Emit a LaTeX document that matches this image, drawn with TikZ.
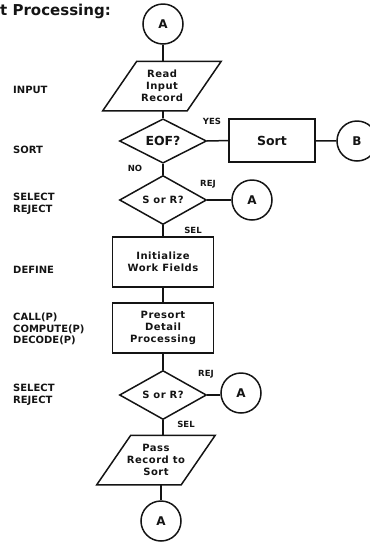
\documentclass[tikz,border=0pt]{standalone}
\usepackage{fontspec}
\setsansfont{DejaVu Sans}
\newfontfamily\flowfont[LetterSpace=5]{DejaVu Sans}
\usepackage{tikz}
\usetikzlibrary{positioning,shapes.geometric,calc}
\definecolor{InkBlack}{RGB}{20,20,20}
\tikzset{
  flow/.style={draw=InkBlack,line width=1.5pt,font=\flowfont\bfseries\fontsize{10}{12}\selectfont,
    text=InkBlack,align=center,inner sep=0pt},
  iobox/.style={flow,draw=none,rectangle,minimum width=83,minimum height=48},
  process/.style={flow,rectangle,minimum width=101,minimum height=50},
  decision/.style={flow,diamond,minimum width=87,minimum height=41},
  connector/.style={flow,circle,minimum size=40,font=\sffamily\bfseries\fontsize{12}{14}\selectfont},
  branch/.style={font=\sffamily\bfseries\fontsize{8.5}{10}\selectfont,text=InkBlack,inner sep=0pt},
  sidelabel/.style={font=\sffamily\bfseries\fontsize{10}{11.5}\selectfont,text=InkBlack,
    align=left,anchor=west,inner sep=0pt},
  line/.style={draw=InkBlack,line width=1.5pt,line join=miter}
}

\begin{document}
\begin{tikzpicture}[x=1pt,y=-1pt]
  \clip (0,0) rectangle (370,542);

  \node[font=\sffamily\bfseries\fontsize{15}{18}\selectfont,anchor=west,inner sep=0pt,text=InkBlack]
    (title) at (0,11) {t Processing:};

  % main column
  \node[connector] (a1) at (163,24) {A};
  \node[iobox] (read) at (162,86) {Read\\Input\\Record};
  \node[decision,font=\sffamily\bfseries\fontsize{12.5}{14}\selectfont] (eof) at (163,141) {EOF?};
  \node[process,minimum width=86,minimum height=43,font=\sffamily\bfseries\fontsize{12.5}{14}\selectfont]
    (sort) at (272,140.5) {Sort};
  \node[connector] (b) at (357,141) {B};
  \node[decision] (sr1) at (163,200) {S or R?};
  \node[connector] (a2) at (252,200) {A};
  \node[process] (init) at (163,262) {Initialize\\Work Fields};
  \node[process] (presort) at (163,328) {Presort\\Detail\\Processing};
  \node[decision] (sr2) at (163,395) {S or R?};
  \node[connector] (a3) at (241,393) {A};
  \node[iobox] (pass) at (156,460) {Pass\\Record to\\Sort};
  \node[connector] (a4) at (161,521) {A};

  % slanted input/output boxes
  \foreach \io in {read,pass}
    \draw[line] ([xshift=17]\io.north west) -- ([xshift=17]\io.north east)
      -- ([xshift=-17]\io.south east) -- ([xshift=-17]\io.south west) -- cycle;

  \draw[line] (a1) -- (a1 |- read.north);
  \draw[line] (read.south -| eof) -- (eof);
  \draw[line] (eof) -- (sort);
  \draw[line] (sort) -- (b);
  \draw[line] (eof) -- (sr1);
  \draw[line] (sr1.east) -- (sr1.east -| a2.west);
  \draw[line] (sr1) -- (init);
  \draw[line] (init) -- (presort);
  \draw[line] (presort) -- (sr2);
  \draw[line] (sr2.east) -- (sr2.east -| a3.west);
  \draw[line] (sr2.south) -- (sr2.south |- pass.north);
  \draw[line] (pass.south -| a4) -- (a4);

  % branch labels
  \node[branch] (yes) at (212,121) {YES};
  \node[branch] (no) at (135,168) {NO};
  \node[branch] (rej1) at (208,184) {REJ};
  \node[branch] (sel1) at (193,230) {SEL};
  \node[branch] (rej2) at (206,374) {REJ};
  \node[branch] (sel2) at (186,424) {SEL};

  % left column
  \node[sidelabel] (lin) at (13,90) {INPUT};
  \node[sidelabel] (lsort) at (13,150) {SORT};
  \node[sidelabel] (lsel1) at (13,204) {SELECT\\REJECT};
  \node[sidelabel] (ldef) at (13,270) {DEFINE};
  \node[sidelabel] (lcall) at (13,329) {CALL(P)\\COMPUTE(P)\\DECODE(P)};
  \node[sidelabel] (lsel2) at (13,395) {SELECT\\REJECT};
\end{tikzpicture}
\end{document}
